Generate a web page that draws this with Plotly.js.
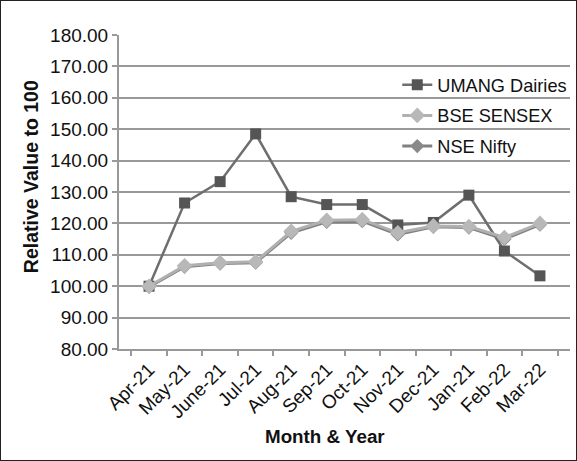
<!DOCTYPE html>
<html><head><meta charset="utf-8">
<script src="https://cdn.plot.ly/plotly-3.0.1.min.js"></script>
<style>html,body{margin:0;padding:0;background:#fff}#chart{width:577px;height:461px;box-sizing:border-box;border:1.5px solid #222;position:relative}</style>
</head><body><div id="chart"></div>
<script>
const months = ["Apr-21","May-21","June-21","Jul-21","Aug-21","Sep-21","Oct-21","Nov-21","Dec-21","Jan-21","Feb-22","Mar-22"];
const umang = [100, 126.5, 133.3, 148.5, 128.5, 126.0, 126.0, 119.5, 120.3, 129.0, 111.2, 103.3];
const bse   = [100, 106.5, 107.5, 107.8, 117.5, 121.0, 121.2, 117.0, 119.2, 119.0, 115.5, 120.0];
const nse   = [99.8, 106.2, 107.2, 107.5, 117.0, 120.5, 120.7, 116.5, 118.9, 118.7, 115.0, 119.6];
const yTicks = [80,90,100,110,120,130,140,150,160,170,180];
const xTitle = "Month & Year";
const yTitle = "Relative Value to 100";

const font = "Liberation Sans, Arial, sans-serif";
const traces = [
  {x: months, y: umang, name: "UMANG Dairies", legendgroup: "a", legendrank: 1, mode: "lines+markers",
   line: {color: "#6e6e6e", width: 2.5}, marker: {symbol: "square", size: 11, color: "#555555"}},
  {x: months, y: nse, name: "NSE Nifty", legendgroup: "c", legendrank: 3, mode: "lines+markers",
   line: {color: "#808080", width: 3}, marker: {symbol: "diamond", size: 11, color: "#8a8a8a"}},
  {x: months, y: bse, name: "BSE SENSEX", legendgroup: "b", legendrank: 2, mode: "lines+markers",
   line: {color: "#b0b0b0", width: 3}, marker: {symbol: "diamond", size: 12, color: "#b8b8b8"}}
];
const layout = {
  width: 574, height: 458,
  margin: {l: 118, r: 5, t: 34, b: 110, autoexpand: false},
  paper_bgcolor: "#fff", plot_bgcolor: "#fff",
  font: {family: font, color: "#111", size: 17},
  showlegend: true,
  legend: {x: 0.617, y: 0.9, xanchor: "left", yanchor: "top", traceorder: "grouped",
           font: {size: 18.2, color: "#111"}, bgcolor: "rgba(255,255,255,0)", tracegroupgap: 4,
           itemwidth: 30},
  xaxis: {type: "category", tickangle: -45, showgrid: false, showline: true, linecolor: "#999", linewidth: 2,
          ticks: "outside", tickcolor: "#999", ticklen: 5, tickwidth: 2, tickson: "boundaries",
          tickfont: {size: 19, color: "#111"}, automargin: false},
  yaxis: {range: [80, 180], tickvals: yTicks, ticktext: yTicks.map(v => v.toFixed(2)),
          showgrid: true, gridcolor: "#999", gridwidth: 2, showline: true, linecolor: "#999", linewidth: 2,
          ticks: "outside", tickcolor: "#999", ticklen: 5, tickwidth: 2, zeroline: false,
          tickfont: {size: 19, color: "#111"}, automargin: false},
  annotations: [
    {text: xTitle, xref: "paper", yref: "paper", x: 0.4557, y: -0.2787, xanchor: "center", yanchor: "middle",
     showarrow: false, font: {size: 18.8, color: "#111", weight: "bold"}},
    {text: yTitle, xref: "paper", yref: "paper", x: -0.1962, y: 0.549, xanchor: "center", yanchor: "middle",
     textangle: -90, showarrow: false, font: {size: 19.5, color: "#111", weight: "bold"}}
  ]
};
Plotly.newPlot("chart", traces, layout, {displayModeBar: false, staticPlot: true});
</script></body></html>
